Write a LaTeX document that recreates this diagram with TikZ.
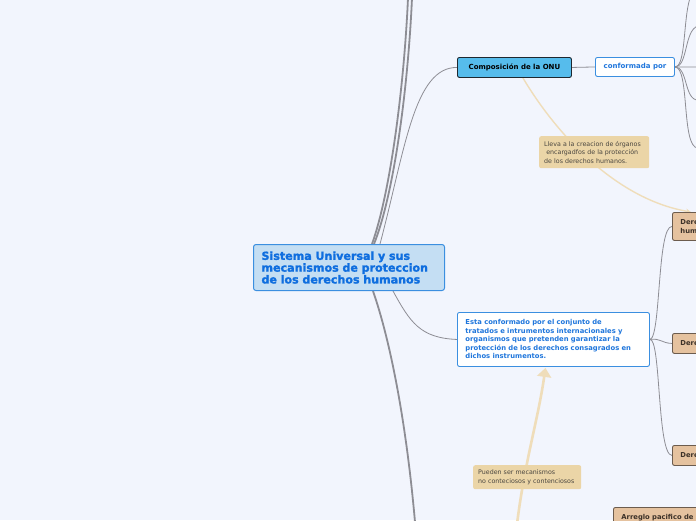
\documentclass[tikz,border=0pt]{standalone}
\usepackage{fontspec}
\setmainfont{DejaVu Sans}
\newfontfamily\rootfont{DejaVu Sans}[BoldFeatures={FakeBold=1.6}]
\usetikzlibrary{arrows.meta}
\definecolor{bgc}{HTML}{F2F5FD}
\definecolor{rootfill}{HTML}{C4DEF3}
\definecolor{rootline}{HTML}{3B8FE0}
\definecolor{roottext}{HTML}{0F6EDF}
\definecolor{onufill}{HTML}{56BCEC}
\definecolor{onuline}{HTML}{1E2830}
\definecolor{bluetext}{HTML}{1F76DC}
\definecolor{notefill}{HTML}{EBD5A7}
\definecolor{notetext}{HTML}{4A4640}
\definecolor{tanfill}{HTML}{E5C29F}
\definecolor{tanline}{HTML}{6C5C4E}
\definecolor{tantext}{HTML}{3C3128}
\definecolor{conn}{HTML}{8D8D94}
\definecolor{tanconn}{HTML}{EFDDBA}
\pgfdeclarelayer{back}
\pgfsetlayers{back,main}
\tikzset{
  rootbox/.style={draw=rootline, line width=1pt, fill=rootfill, rounded corners=2.5pt, anchor=north west,
    text=roottext, font=\rootfont\fontsize{11.1}{11.8}\selectfont\bfseries, align=left, inner xsep=8pt, inner ysep=0pt},
  onubox/.style={draw=onuline, line width=0.9pt, fill=onufill, rounded corners=2pt, anchor=north west,
    text=black, font=\fontsize{7}{8}\selectfont\bfseries, inner sep=0pt},
  whitebox/.style={draw=rootline, line width=0.9pt, fill=white, rounded corners=2pt, anchor=north west,
    text=bluetext, font=\fontsize{7}{8}\selectfont\bfseries},
  notebox/.style={fill=notefill, rounded corners=2pt, anchor=north west, text=notetext,
    font=\fontsize{6.3}{8.6}\selectfont, align=left, inner xsep=5pt, inner ysep=0pt},
  tanbox/.style={draw=tanline, line width=0.9pt, fill=tanfill, rounded corners=2pt, anchor=north west,
    text=tantext, font=\fontsize{6.8}{8.4}\selectfont\bfseries, align=left, inner xsep=8pt, inner ysep=0pt},
  thickconn/.style={draw=conn, line width=1.8pt},
  thinconn/.style={draw=conn, line width=0.8pt},
  tanarrow/.style={draw=tanconn, line width=1.4pt},
}
\begin{document}
\begin{tikzpicture}[x=1pt,y=-1pt]
\useasboundingbox (0,0) rectangle (696,520);
\clip (0,0) rectangle (696,520);
% nodes
\node[rootbox, minimum width=191pt, minimum height=46pt, text width=175pt] (root) at (253,244)
  {Sistema Universal y sus\\mecanismos de proteccion\\de los derechos humanos};
\node[onubox, minimum width=114pt, minimum height=20pt] (onu) at (457,57) {Composición de la ONU};
\node[whitebox, minimum width=79pt, minimum height=19pt, inner sep=0pt] (conf) at (595,57) {conformada por};
\node[notebox, minimum width=110pt, minimum height=32pt, text width=100pt] (note1) at (539,136)
  {Lleva a la creacion de órganos\\ \ encargadfos de la protección\\de los derechos humanos.};
\node[whitebox, minimum width=192pt, minimum height=54pt, text width=176pt, align=left, inner xsep=8pt, inner ysep=0pt,
  font=\fontsize{6.8}{8.5}\selectfont\bfseries] (esta) at (457,312)
  {Esta conformado por el conjunto de\\tratados e intrumentos internacionales y\\organismos que pretenden garantizar la\\protección de los derechos consagrados en\\dichos instrumentos.};
\node[notebox, minimum width=108pt, minimum height=24pt, text width=98pt] (note2) at (473,465)
  {Pueden ser mecanismos\\no conteciosos y contenciosos};
\node[tanbox, minimum width=70pt, minimum height=28pt, text width=54pt] (d1) at (672,212) {Derechos\\humanos};
\node[tanbox, minimum width=70pt, minimum height=20pt, text width=54pt] (d2) at (672,333) {Derechos};
\node[tanbox, minimum width=70pt, minimum height=20pt, text width=54pt] (d3) at (672,445) {Derechos};
\node[tanbox, minimum width=110pt, minimum height=20pt, text width=94pt] (arr) at (613,507) {Arreglo pacifico de};
% free ends
\coordinate (t1) at (408,-2);
\coordinate (t2) at (412,-2);
\coordinate (b1) at (415,522);
\coordinate (c1) at (690,-2);
\coordinate (c2) at (698,26);
\coordinate (c3) at (698,67);
\coordinate (c4) at (698,100);
\coordinate (c5) at (698,148);
\coordinate (tb) at (517,524);
\begin{pgfonlayer}{back}
\fill[bgc] (0,0) rectangle (696,520);
% root connectors
\draw[thickconn] ([xshift=119pt]root.north west) .. controls +(18,-50) and +(-4,90) .. (t1);
\draw[thickconn] ([xshift=121pt]root.north west) .. controls +(20,-50) and +(-4,90) .. (t2);
\draw[thinconn] ([xshift=127pt]root.north west) .. controls (405,150) and (414,67) .. (onu.west);
\draw[thinconn] ([xshift=140pt]root.south west) .. controls (410,322) and (420,338) .. (esta.west);
\draw[thickconn] ([xshift=120pt]root.south west) .. controls (390,340) and (406,420) .. (b1);
% onu
\draw[thinconn] (onu.east) -- (conf.west);
\draw[thinconn] (conf.east) .. controls (686,67) and (683,20) .. (c1);
\draw[thinconn] (conf.east) .. controls (688,67) and (684,30) .. (c2);
\draw[thinconn] (conf.east) -- (c3);
\draw[thinconn] (conf.east) .. controls (688,67) and (684,100) .. (c4);
\draw[thinconn] (conf.east) .. controls (690,67) and (681,148) .. (c5);
% esta branches
\draw[thinconn] (esta.east) .. controls (661,338) and (657,226) .. (d1.west);
\draw[thinconn] (esta.east) .. controls (661,338) and (661,343) .. (d2.west);
\draw[thinconn] (esta.east) .. controls (661,338) and (657,455) .. (d3.west);
% tan arrows
\draw[tanarrow, -{Stealth[length=5pt,width=5pt]}] ([xshift=-49pt]onu.south east) .. controls (560,140) and (620,200) .. ([xshift=19pt]d1.north west);
\draw[tanarrow, line width=2.6pt, -{Triangle[length=9pt,width=14pt]}] (tb) .. controls (525,460) and (538,420) .. ([xshift=-8pt,yshift=-1pt]esta.south);
\end{pgfonlayer}
\end{tikzpicture}
\end{document}
